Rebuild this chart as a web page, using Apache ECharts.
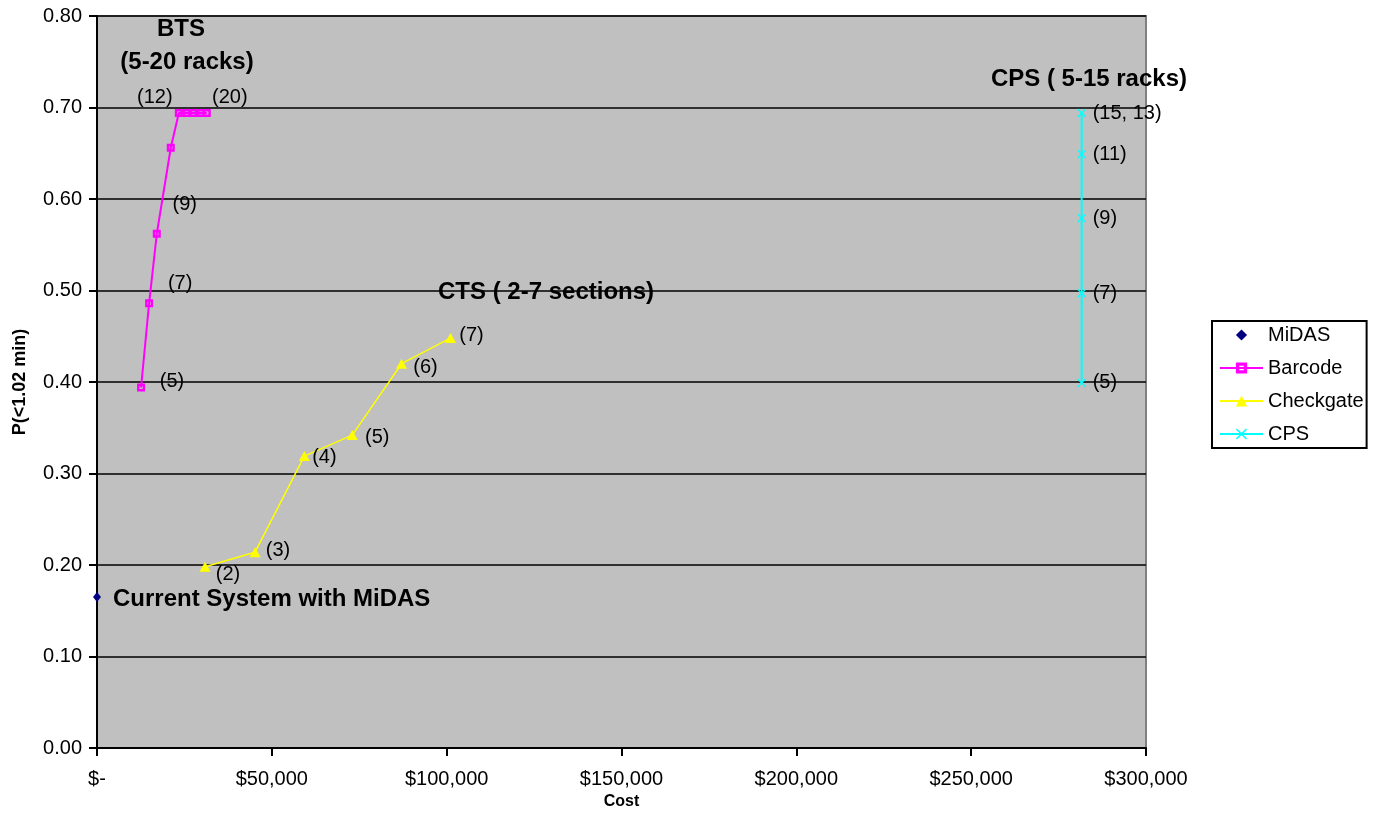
<!DOCTYPE html>
<html>
<head>
<meta charset="utf-8">
<title>P(&lt;1.02 min) vs Cost</title>
<script src="https://cdn.jsdelivr.net/npm/echarts@6/dist/echarts.min.js"></script>
<style>
  html, body { margin: 0; padding: 0; background: #ffffff; }
  #chart { width: 1378px; height: 826px; }
</style>
</head>
<body>
<div id="chart"></div>
<script>
// ---- data ----
const midasCost = [0];
const midasP = [0.165];

const barcodeCost = [12600, 14900, 17100, 21100, 23400, 25600, 27600, 29700, 31400];
const barcodeP = [0.394, 0.486, 0.562, 0.656, 0.694, 0.694, 0.694, 0.694, 0.694];
const barcodeLabels = ['(5)', '(7)', '(9)', '', '(12)', '', '', '', '(20)'];

const checkgateCost = [30900, 45200, 59300, 73000, 87100, 101100];
const checkgateP = [0.198, 0.214, 0.319, 0.342, 0.420, 0.448];
const checkgateLabels = ['(2)', '(3)', '(4)', '(5)', '(6)', '(7)'];

const cpsCost = [281600, 281600, 281600, 281600, 281600];
const cpsP = [0.399, 0.497, 0.579, 0.649, 0.694];
const cpsLabels = ['(5)', '(7)', '(9)', '(11)', '(15, 13)'];

const yTicks = [0, 0.1, 0.2, 0.3, 0.4, 0.5, 0.6, 0.7, 0.8];
const xTicks = [0, 50000, 100000, 150000, 200000, 250000, 300000];

// ---- label placement: pixel offset of each label's anchor from its marker ----
const barcodeLabelOffsets = [[31, -6], [31, -20], [28, -29], [0, 0], [-24, -16], [0, 0], [0, 0], [0, 0], [23, -16]];
const checkgateLabelOffsets = [[23, 8], [23, -2], [20, 1], [25, 2], [24, 4], [21, -3]];
const cpsLabelOffsets = [[11, 0], [11, 0], [11, 0], [11, 0], [11, 0]];

const FONT = 'Arial, "Liberation Sans", Helvetica, sans-serif';

const chart = echarts.init(document.getElementById('chart'), null, { renderer: 'canvas' });

const squareMark = 'path://M0,0H10V10H0Z M3,3V7H7V3Z';
const crossMark = 'path://M0,1L1,0L5,4L9,0L10,1L6,5L10,9L9,10L5,6L1,10L0,9L4,5Z';

function pairs(xs, ys) { return xs.map((x, i) => [x, ys[i]]); }

// a text layer placed through the cartesian coordinate system
function labelLayer(xs, ys, texts, offsets, align) {
  return {
    type: 'custom',
    coordinateSystem: 'cartesian2d',
    silent: true,
    z: 10,
    clip: false,
    data: pairs(xs, ys),
    renderItem: function (params, api) {
      const t = texts[params.dataIndex];
      if (!t) return null;
      const p = api.coord([api.value(0), api.value(1)]);
      const o = offsets[params.dataIndex];
      return {
        type: 'text',
        x: p[0] + o[0],
        y: p[1] + o[1],
        style: {
          text: t,
          fill: '#000',
          font: '20px ' + FONT,
          align: align,
          verticalAlign: 'middle'
        }
      };
    }
  };
}

const option = {
  animation: false,
  backgroundColor: '#ffffff',
  textStyle: { fontFamily: FONT },
  grid: {
    left: 97, right: 232, top: 16, bottom: 78,
    show: true, backgroundColor: '#c0c0c0', borderColor: '#808080', borderWidth: 2
  },
  xAxis: {
    type: 'value',
    min: xTicks[0], max: xTicks[xTicks.length - 1], interval: 50000,
    name: 'Cost', nameLocation: 'middle', nameGap: 30,
    nameTextStyle: { color: '#000', fontSize: 16, fontWeight: 'bold', fontFamily: FONT },
    axisLine: { show: true, onZero: false, lineStyle: { color: '#000', width: 2 } },
    axisTick: { show: true, inside: false, length: 8, lineStyle: { color: '#000', width: 2 } },
    axisLabel: {
      color: '#000', fontSize: 20, fontFamily: FONT, margin: 21,
      formatter: v => v === 0 ? '$-' : '$' + v.toLocaleString('en-US')
    },
    splitLine: { show: false }
  },
  yAxis: {
    type: 'value',
    min: yTicks[0], max: yTicks[yTicks.length - 1], interval: 0.1,
    name: 'P(<1.02 min)', nameLocation: 'middle', nameGap: 68, nameRotate: 90,
    nameTextStyle: { color: '#000', fontSize: 18, fontWeight: 'bold', fontFamily: FONT },
    axisLine: { show: true, onZero: false, lineStyle: { color: '#000', width: 2 } },
    axisTick: { show: true, inside: false, length: 8, lineStyle: { color: '#000', width: 2 } },
    axisLabel: { color: '#000', fontSize: 20, fontFamily: FONT, margin: 15, formatter: v => v.toFixed(2) },
    splitLine: { show: true, lineStyle: { color: '#000', width: 1.5 } }
  },
  legend: {
    orient: 'vertical',
    left: 1212, top: 321,
    padding: [4, 3, 4, 7],
    itemGap: 13,
    itemWidth: 43, itemHeight: 14,
    borderColor: '#000', borderWidth: 2,
    backgroundColor: '#ffffff',
    textStyle: { color: '#000', fontSize: 20, fontFamily: FONT, lineHeight: 20 },
    data: ['MiDAS', 'Barcode', 'Checkgate', 'CPS']
  },
  series: [
    {
      name: 'MiDAS', type: 'line',
      symbol: 'diamond', symbolSize: [8, 10], showSymbol: true,
      lineStyle: { opacity: 0 },
      itemStyle: { color: '#000080' },
      clip: false,
      data: pairs(midasCost, midasP)
    },
    {
      name: 'Barcode', type: 'line',
      symbol: squareMark, symbolSize: 8, showAllSymbol: true,
      lineStyle: { color: '#ff00ff', width: 2 },
      itemStyle: { color: '#ff00ff' },
      data: pairs(barcodeCost, barcodeP)
    },
    {
      name: 'Checkgate', type: 'line',
      symbol: 'triangle', symbolSize: [11, 10], showAllSymbol: true,
      lineStyle: { color: '#ffff00', width: 1.5 },
      itemStyle: { color: '#ffff00' },
      data: pairs(checkgateCost, checkgateP)
    },
    {
      name: 'CPS', type: 'line',
      symbol: crossMark, symbolSize: 9, showAllSymbol: true,
      lineStyle: { color: '#00ffff', width: 2 },
      itemStyle: { color: '#00ffff' },
      data: pairs(cpsCost, cpsP)
    },
    labelLayer(barcodeCost, barcodeP, barcodeLabels, barcodeLabelOffsets, 'center'),
    labelLayer(checkgateCost, checkgateP, checkgateLabels, checkgateLabelOffsets, 'center'),
    labelLayer(cpsCost, cpsP, cpsLabels, cpsLabelOffsets, 'left')
  ],
  graphic: [
    { type: 'text', x: 181, y: 29, z: 50,
      style: { text: 'BTS', font: 'bold 24px ' + FONT, fill: '#000', align: 'center', verticalAlign: 'middle' } },
    { type: 'text', x: 187, y: 62, z: 50,
      style: { text: '(5-20 racks)', font: 'bold 24px ' + FONT, fill: '#000', align: 'center', verticalAlign: 'middle' } },
    { type: 'text', x: 1187, y: 79, z: 50,
      style: { text: 'CPS ( 5-15 racks)', font: 'bold 24px ' + FONT, fill: '#000', align: 'right', verticalAlign: 'middle' } },
    { type: 'text', x: 438, y: 292, z: 50,
      style: { text: 'CTS ( 2-7 sections)', font: 'bold 24px ' + FONT, fill: '#000', align: 'left', verticalAlign: 'middle' } },
    { type: 'text', x: 113, y: 599, z: 50,
      style: { text: 'Current System with MiDAS', font: 'bold 24px ' + FONT, fill: '#000', align: 'left', verticalAlign: 'middle' } }
  ]
};

chart.setOption(option);
</script>
</body>
</html>
